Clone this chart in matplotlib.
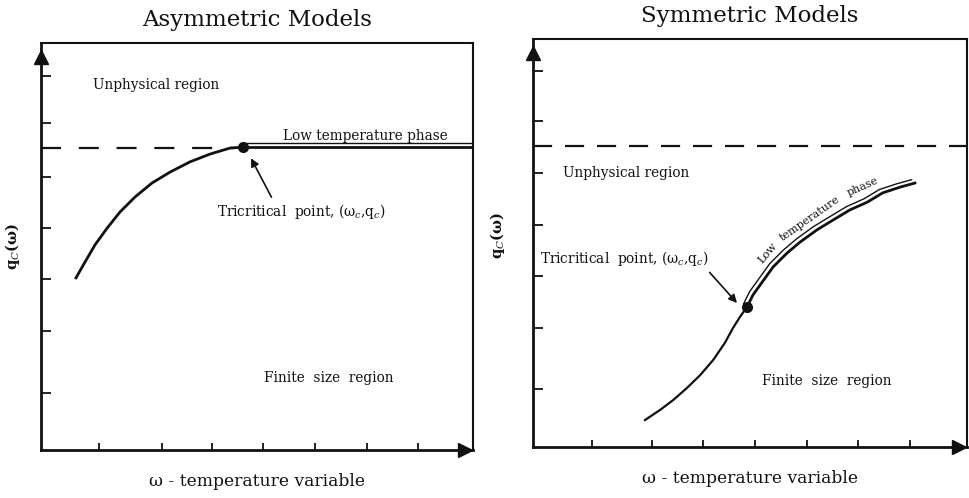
import numpy as np
import matplotlib
matplotlib.use("Agg")
import matplotlib.pyplot as plt
import matplotlib.transforms as mtransforms

plt.rcParams["font.family"] = ["DejaVu Serif"]
plt.rcParams["mathtext.fontset"] = "dejavuserif"

INK = "#111111"

# ── Data (both panels on a 0–10 schematic scale) ─────────────────────────────

# Asymmetric models
asym_curve_x = [0.81, 1.02, 1.25, 1.53, 1.83, 2.18, 2.57, 2.99, 3.45, 3.91, 4.38, 4.68]
asym_curve_y = [4.23, 4.62, 5.04, 5.45, 5.85, 6.22, 6.56, 6.83, 7.08, 7.27, 7.42, 7.44]
asym_low_x = [4.68, 10.0]
asym_low_y = [7.44, 7.44]
asym_crit = (4.68, 7.44)
asym_dash_y = 7.43
asym_xticks = [1.34, 2.80, 3.96, 5.14, 6.34, 7.55, 8.73]
asym_yticks = [1.40, 2.92, 4.20, 5.45, 6.71, 8.03, 9.19]

# Symmetric models
sym_curve_x = [2.58, 2.93, 3.23, 3.55, 3.85, 4.15, 4.42, 4.61, 4.77, 4.93]
sym_curve_y = [0.66, 0.91, 1.15, 1.45, 1.76, 2.13, 2.55, 2.92, 3.19, 3.43]
sym_low_x = [4.93, 5.07, 5.28, 5.53, 5.85, 6.15, 6.54, 6.91, 7.30, 7.70, 8.06, 8.46, 8.80]
sym_low_y = [3.43, 3.73, 4.04, 4.41, 4.75, 5.02, 5.32, 5.56, 5.81, 6.00, 6.23, 6.37, 6.47]
sym_crit = (4.93, 3.43)
sym_dash_y = 7.38
sym_xticks = [1.36, 2.74, 3.92, 5.12, 6.31, 7.49, 8.69]
sym_yticks = [1.42, 2.92, 4.19, 5.44, 6.72, 7.99, 9.22]

W, H = 970, 498
fig = plt.figure(figsize=(W / 100, H / 100), dpi=100, facecolor="white")
FS = 9.8


def px_axes(x0, y0, x1, y1):
    # axes from pixel box (top-left origin)
    return fig.add_axes([x0 / W, 1 - y1 / H, (x1 - x0) / W, (y1 - y0) / H])


def frame(ax, xticks, yticks, title):
    ax.set_xlim(0, 10)
    ax.set_ylim(0, 10)
    ax.set_xticks(xticks)
    ax.set_yticks(yticks)
    ax.set_xticklabels([])
    ax.set_yticklabels([])
    ax.tick_params(axis="x", direction="in", length=5, width=1.3, color=INK)
    ax.tick_params(axis="y", direction="in", length=7, width=1.3, color=INK)
    for s in ["left", "bottom"]:
        ax.spines[s].set_linewidth(2.0)
    for s in ["top", "right"]:
        ax.spines[s].set_linewidth(1.5)
    for s in ax.spines.values():
        s.set_color(INK)
    # axis arrows
    ax.plot(0, 0.966, marker="^", ms=10, color=INK, transform=ax.transAxes, clip_on=False)
    ax.plot(0.982, 0, marker=">", ms=10, color=INK, transform=ax.transAxes, clip_on=False)
    ax.set_title(title, fontsize=16.5, pad=12, color=INK)
    ax.set_xlabel("ω - temperature variable", fontsize=12.3, labelpad=13, color=INK)


# ── Left: Asymmetric Models ──────────────────────────────────────────────────

ax1 = px_axes(41, 43, 473, 450)
frame(ax1, asym_xticks, asym_yticks, "Asymmetric Models")
ax1.axhline(asym_dash_y, xmax=0.45, color=INK, lw=1.6, dashes=(9, 8))
ax1.plot(asym_curve_x, asym_curve_y, color=INK, lw=2.0)
ax1.plot(asym_low_x, asym_low_y, color=INK, lw=2.0)
up = mtransforms.offset_copy(ax1.transData, fig=fig, x=0, y=3.2, units="points")
ax1.plot(asym_low_x, asym_low_y, color=INK, lw=1.0, transform=up)
ax1.plot(*asym_crit, "o", ms=7, color=INK)

ax1.text(1.2, 8.97, "Unphysical region", fontsize=FS, va="center", color=INK)
ax1.text(5.6, 7.71, "Low temperature phase", fontsize=FS, va="center", color=INK)
ax1.annotate("Tricritical  point, (ω$_c$,q$_c$)", xy=(4.86, 7.17), xytext=(4.07, 5.85),
             fontsize=FS, color=INK, ha="left", va="center",
             arrowprops=dict(arrowstyle="-|>", color=INK, lw=1.2, mutation_scale=12,
                             shrinkA=2, shrinkB=0, relpos=(0.34, 1.0)))
ax1.text(5.16, 1.77, "Finite  size  region", fontsize=FS, va="center", color=INK)

# ── Right: Symmetric Models ──────────────────────────────────────────────────

ax2 = px_axes(533, 39, 967, 447)
frame(ax2, sym_xticks, sym_yticks, "Symmetric Models")
ax2.axhline(sym_dash_y, color=INK, lw=1.6, dashes=(8.6, 5.8))
ax2.plot(sym_curve_x, sym_curve_y, color=INK, lw=1.6)
ax2.plot(sym_low_x, sym_low_y, color=INK, lw=2.0)
outer = mtransforms.offset_copy(ax2.transData, fig=fig, x=-2.4, y=2.4, units="points")
ax2.plot(sym_low_x, sym_low_y, color=INK, lw=1.0, transform=outer)
ax2.plot(*sym_crit, "o", ms=7, color=INK)

ax2.text(0.69, 6.72, "Unphysical region", fontsize=FS, va="center", color=INK)
ax2.annotate("Tricritical  point, (ω$_c$,q$_c$)", xy=(4.70, 3.53), xytext=(0.16, 4.63),
             fontsize=FS, color=INK, ha="left", va="center",
             arrowprops=dict(arrowstyle="-|>", color=INK, lw=1.2, mutation_scale=12,
                             shrinkA=2, shrinkB=0, relpos=(0.98, 0.0)))
ax2.text(5.28, 1.62, "Finite  size  region", fontsize=FS, va="center", color=INK)

# "Low temperature phase" following the upper branch
ax2.text(5.41, 4.75, "Low", fontsize=8, rotation=50, ha="center", va="center", color=INK)
ax2.text(6.38, 5.59, "temperature", fontsize=8, rotation=35, ha="center", va="center", color=INK)
ax2.text(7.60, 6.37, "phase", fontsize=8, rotation=24, ha="center", va="center", color=INK)

# y labels
fig.text(13 / W, 1 - 247 / H, "q$_C$(ω)", rotation=90, fontsize=10.5, ha="center", va="center",
         color=INK, fontweight="bold")
fig.text(498 / W, 1 - 236 / H, "q$_C$(ω)", rotation=90, fontsize=10.5, ha="center", va="center",
         color=INK, fontweight="bold")

fig.savefig("out.png", dpi=100, facecolor="white")
